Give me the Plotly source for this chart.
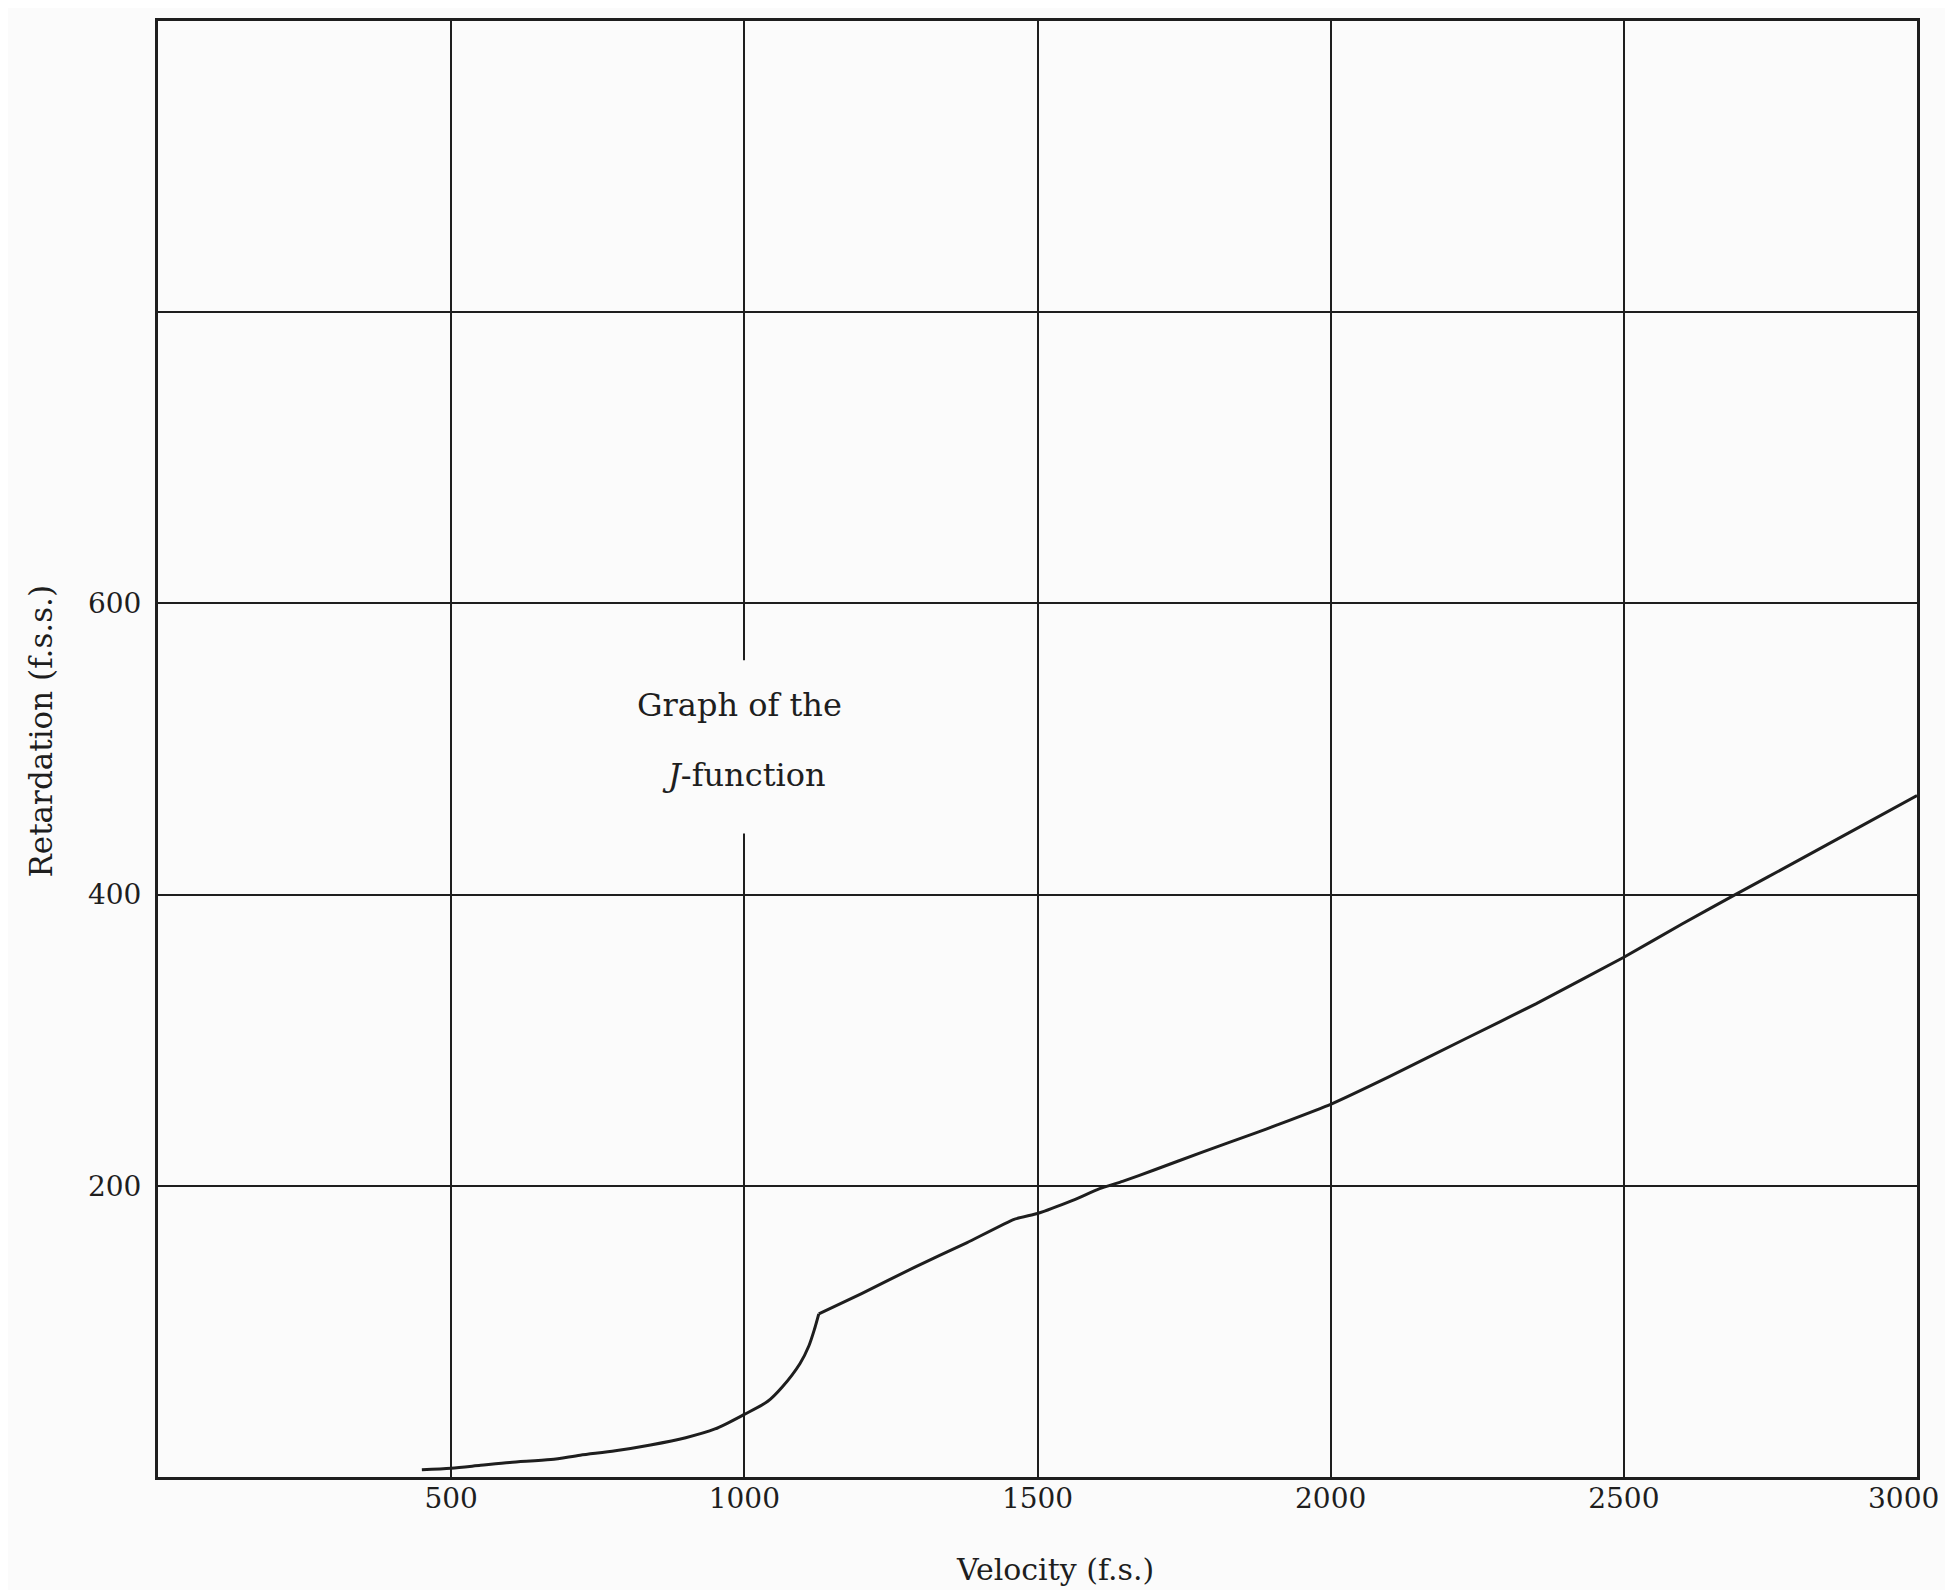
import plotly.graph_objects as go

# J-function curve (velocity f.s. vs retardation f.s.s.)
velocity = [450, 500, 550, 600, 670, 720, 780, 840, 900, 950, 1000, 1040, 1065,
            1095, 1110, 1120, 1127, 1200, 1290, 1380, 1460, 1500, 1560, 1606,
            1645, 1700, 1780, 1870, 1910, 2000, 2100, 2230, 2350, 2500, 2600,
            2690, 2800, 2900, 3000]
retardation = [5, 6, 8, 10, 12, 15, 18, 22, 27, 33, 43, 52, 62,
               78, 90, 102, 112, 126, 144, 161, 177, 181, 190, 198,
               203, 211, 223, 236, 242, 256, 275, 301, 325, 357, 380,
               400, 424, 446, 468]
kink_index = 16  # the sharp corner at about 1127 f.s.

x_ticks = [500, 1000, 1500, 2000, 2500, 3000]
x_tick_text = ["500", "1000", "1500", "2000", "2500", "3000\u00a0\u00a0\u00a0"]
y_ticks = [200, 400, 600, 800]
y_tick_text = ["200", "400", "600", ""]

FONT = "DejaVu Serif"
INK = "#1e1e1e"
BG = "#fbfbfb"

fig = go.Figure()
# smooth part below the kink
fig.add_trace(go.Scatter(x=velocity[:kink_index + 1], y=retardation[:kink_index + 1],
                         mode="lines", line=dict(color=INK, width=3, shape="spline",
                                                 smoothing=0.8),
                         showlegend=False, hoverinfo="skip"))
# upper part above the kink
fig.add_trace(go.Scatter(x=velocity[kink_index:], y=retardation[kink_index:],
                         mode="lines", line=dict(color=INK, width=3, shape="spline",
                                                 smoothing=0.4),
                         showlegend=False, hoverinfo="skip"))

axis_common = dict(showline=True, linecolor=INK, linewidth=3, mirror=True,
                   showgrid=True, gridcolor=INK, gridwidth=2, zeroline=False,
                   automargin=False,
                   ticks="", tickfont=dict(family=FONT, size=28, color=INK))

fig.update_xaxes(range=[0, 3000], tickvals=x_ticks, ticktext=x_tick_text,
                 ticklabelstandoff=-6, ticklabeloverflow="allow", **axis_common)
fig.update_yaxes(range=[0, 1000], tickvals=y_ticks, ticktext=y_tick_text,
                 ticklabelstandoff=8, **axis_common)

# white gap in the 1000 gridline behind the label
fig.add_shape(type="rect", xref="x", yref="y", x0=985, x1=1015, y0=442, y1=561,
              fillcolor=BG, line=dict(width=0), layer="between")

fig.add_annotation(x=1000, y=530, xref="x", yref="y", text="Graph of the",
                   showarrow=False, font=dict(family=FONT, size=32, color=INK),
                   xanchor="center", yanchor="middle", xshift=-5)
fig.add_annotation(x=1000, y=482, xref="x", yref="y", text="<i>J</i>-function",
                   showarrow=False, font=dict(family=FONT, size=32, color=INK),
                   xanchor="center", yanchor="middle")

# axis titles
fig.add_annotation(x=0, y=0.512, xref="paper", yref="paper",
                   text="Retardation (f.s.s.)", textangle=-90, showarrow=False,
                   xshift=-117, xanchor="center", yanchor="middle",
                   font=dict(family=FONT, size=31, color=INK))
fig.add_annotation(x=0.51, y=0, xref="paper", yref="paper",
                   text="Velocity (f.s.)", showarrow=False, yshift=-92,
                   xanchor="center", yanchor="middle",
                   font=dict(family=FONT, size=30, color=INK))

fig.update_layout(width=1953, height=1590,
                  margin=dict(l=150, r=44, t=13, b=121),
                  paper_bgcolor=BG, plot_bgcolor=BG)

fig.write_html("out.html")
